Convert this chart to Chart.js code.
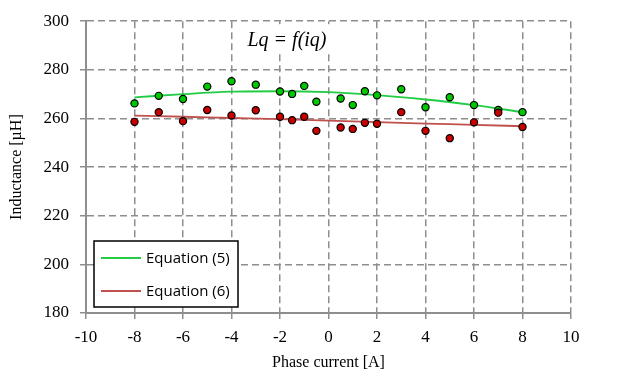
<!DOCTYPE html>
<html>
<head>
<meta charset="utf-8">
<script src="https://cdn.jsdelivr.net/npm/chart.js@4.4.1/dist/chart.umd.min.js"></script>
<style>
  html, body { margin: 0; padding: 0; background: #fff; }
  #wrap { position: relative; width: 630px; height: 376px; }
</style>
</head>
<body>
<div id="wrap"><canvas id="lqChart"></canvas></div>
<script>
// measured points, phase current [A] vs inductance [uH]
var currentMeasured = [-8, -7, -6, -5, -4, -3, -2, -1.5, -1, -0.5, 0.5, 1, 1.5, 2, 3, 4, 5, 6, 7, 8];
var lqMeasured5 = [266.2, 269.3, 268.0, 273.1, 275.3, 273.9, 271.1, 270.1, 273.4, 266.9, 268.2, 265.5, 271.2, 269.5, 272.0, 264.6, 268.7, 265.5, 263.5, 262.6];
var lqMeasured6 = [258.6, 262.6, 258.9, 263.5, 261.2, 263.4, 260.7, 259.3, 260.7, 254.9, 256.3, 255.7, 258.2, 257.8, 262.6, 254.9, 251.9, 258.4, 262.4, 256.5];

// fitted curves
var currentFit = [-8, -6, -4, -2, 0, 2, 4, 6, 8];
var lqFit5 = [268.7, 270.0, 271.0, 271.2, 270.8, 269.6, 267.8, 265.5, 262.6];
var lqFit6 = [261.2, 260.7, 260.2, 259.7, 259.1, 258.5, 257.9, 257.4, 256.8];

var seriesNames = ["Equation (5)", "Equation (6)"];
var xTicks = [-10, -8, -6, -4, -2, 0, 2, 4, 6, 8, 10];
var yTicks = [180, 200, 220, 240, 260, 280, 300];

function toPoints(xs, ys) {
  return xs.map(function (x, i) { return { x: x, y: ys[i] }; });
}

var gridGrey = "#8e8e8e";
var serif = "'Liberation Serif', 'Times New Roman', serif";

// title inside the plot, on a white patch
var titlePlugin = {
  id: "lqTitle",
  beforeDatasetsDraw: function (chart) {
    var c = chart.ctx, a = chart.chartArea;
    c.save();
    c.fillStyle = "#fff";
    c.fillRect(a.left + 154, a.top + 3, 100, 29);
    c.fillStyle = "#000";
    c.font = "italic 20px " + serif;
    c.textAlign = "center";
    c.textBaseline = "middle";
    c.fillText("Lq = f(iq)", a.left + 201, a.top + 20);
    c.restore();
  }
};

// boxed legend in the lower left of the plot
var boxLegend = {
  id: "boxLegend",
  afterDraw: function (chart) {
    var c = chart.ctx, a = chart.chartArea;
    var items = chart.data.datasets.filter(function (d) { return d.label; });
    var x0 = a.left + 8, y0 = a.bottom - 72, w = 144, h = 66;
    c.save();
    c.fillStyle = "#fff";
    c.fillRect(x0, y0, w, h);
    c.strokeStyle = "#000";
    c.lineWidth = 1.5;
    c.strokeRect(x0, y0, w, h);
    c.font = "15px 'Open Sans', sans-serif";
    c.textBaseline = "middle";
    items.forEach(function (d, i) {
      var y = y0 + 17 + i * 33;
      c.strokeStyle = d.borderColor;
      c.lineWidth = 1.8;
      c.beginPath();
      c.moveTo(x0 + 7, y);
      c.lineTo(x0 + 47, y);
      c.stroke();
      c.fillStyle = "#000";
      c.fillText(d.label, x0 + 52, y + 1);
    });
    c.restore();
  }
};

var ctx = document.getElementById("lqChart").getContext("2d");

var lqChart = new Chart(ctx, {
  type: "scatter",
  data: {
    datasets: [
      {
        label: "",
        data: toPoints(currentMeasured, lqMeasured6),
        backgroundColor: "#c80000",
        borderColor: "#000",
        borderWidth: 1.2,
        pointRadius: 3.6,
        order: 0
      },
      {
        label: "",
        data: toPoints(currentMeasured, lqMeasured5),
        backgroundColor: "#00c800",
        borderColor: "#000",
        borderWidth: 1.2,
        pointRadius: 3.6,
        order: 1
      },
      {
        label: seriesNames[0],
        data: toPoints(currentFit, lqFit5),
        showLine: true,
        borderColor: "#22cc44",
        borderWidth: 1.8,
        pointRadius: 0,
        cubicInterpolationMode: "monotone",
        order: 2
      },
      {
        label: seriesNames[1],
        data: toPoints(currentFit, lqFit6),
        showLine: true,
        borderColor: "#c0504d",
        borderWidth: 1.8,
        pointRadius: 0,
        cubicInterpolationMode: "monotone",
        order: 3
      }
    ]
  },
  options: {
    responsive: true,
    maintainAspectRatio: false,
    animation: false,
    layout: { padding: { top: 17, right: 59, left: 0, bottom: 0 } },
    plugins: {
      legend: { display: false },
      tooltip: { enabled: false }
    },
    scales: {
      x: {
        type: "linear",
        min: xTicks[0],
        max: xTicks[xTicks.length - 1],
        afterBuildTicks: function (axis) {
          axis.ticks = xTicks.map(function (v) { return { value: v }; });
        },
        afterFit: function (axis) { axis.height = 63; },
        grid: { color: gridGrey, lineWidth: 1.5, tickLength: 6, tickColor: gridGrey, tickWidth: 1.5 },
        border: { color: gridGrey, width: 2, dash: [7, 4] },
        ticks: { color: "#000", font: { family: serif, size: 17 }, padding: 8, maxRotation: 0 },
        title: {
          display: true,
          text: "Phase current [A]",
          color: "#000",
          font: { family: serif, size: 16 },
          padding: { top: 0, bottom: 4 }
        }
      },
      y: {
        type: "linear",
        min: yTicks[0],
        max: yTicks[yTicks.length - 1],
        afterBuildTicks: function (axis) {
          axis.ticks = yTicks.map(function (v) { return { value: v }; });
        },
        afterFit: function (axis) { axis.width = 86; },
        grid: { color: gridGrey, lineWidth: 1.5, tickLength: 6, tickColor: gridGrey, tickWidth: 1.5 },
        border: { color: gridGrey, width: 2, dash: [7, 4] },
        ticks: { color: "#000", font: { family: serif, size: 17 }, padding: 11 },
        title: {
          display: true,
          text: "Inductance [\u00b5H]",
          color: "#000",
          font: { family: serif, size: 16 },
          padding: { top: 7, bottom: 0 }
        }
      }
    }
  },
  plugins: [titlePlugin, boxLegend]
});
</script>
</body>
</html>
